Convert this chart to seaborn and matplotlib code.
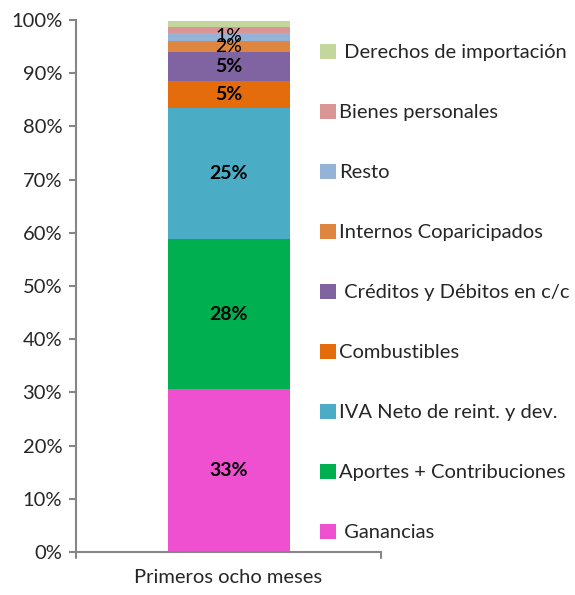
import pandas as pd
import numpy as np
import matplotlib
matplotlib.use("Agg")
import matplotlib.pyplot as plt
import seaborn as sns
from matplotlib.patches import Patch

# -------------------
# Data (bottom to top of the stacked bar)
categories = ["Ganancias", "Aportes + Contribuciones", "IVA Neto de reint. y dev.",
              "Combustibles", "Créditos y Débitos en c/c", "Internos Coparicipados",
              "Resto", "Bienes personales", "Derechos de importación"]
shares = [30.6, 28.2, 24.6, 5.1, 5.5, 2.1, 1.5, 1.1, 1.1]
labels = ["33%", "28%", "25%", "5%", "5%", "2%", "1%", "", ""]
label_bold = [True, True, True, True, True, False, False, False, False]
colors = ["#EE50D0", "#00B050", "#4BACC6", "#E46C0A", "#8064A2",
          "#DE8540", "#95B3D7", "#D99694", "#C3D69B"]
# leading spaces as in the original legend
legend_names = [" Ganancias", "Aportes + Contribuciones", "IVA Neto de reint. y dev.",
                "Combustibles", " Créditos y Débitos en c/c", "Internos Coparicipados",
                "Resto", "Bienes personales", " Derechos de importación"]
period = "Primeros ocho meses"

sns.set_style("white")
plt.rcParams["font.family"] = ["Lato", "DejaVu Sans"]

df = pd.DataFrame({"period": period, "tributo": categories, "share": shares})
df["bottom"] = df["share"].cumsum() - df["share"]

fig = plt.figure(figsize=(5.75, 5.95), dpi=100)
ax = fig.add_axes([0.1322, 0.0723, 0.5304, 0.8941])

for i, row in df.iterrows():
    sns.barplot(x=[row["period"]], y=[row["share"]], bottom=row["bottom"],
                color=colors[i], width=0.4, ax=ax, saturation=1, linewidth=0)
    if labels[i]:
        ax.text(0, row["bottom"] + row["share"] / 2, labels[i], ha="center", va="center",
                fontsize=14, fontweight="bold" if label_bold[i] else "normal", color="black")

ax.set_ylim(0, 100)
ax.set_xlim(-0.5, 0.5)
ax.set_yticks(np.arange(0, 101, 10))
ax.set_yticklabels([f"{v}%" for v in range(0, 101, 10)], fontsize=14.5)
ax.set_xticks([0])
ax.set_xticklabels([period], fontsize=14.5)
ax.set_xlabel("")
ax.set_ylabel("")

for s in ["top", "right"]:
    ax.spines[s].set_visible(False)
for s in ["left", "bottom"]:
    ax.spines[s].set_color("#868686")
    ax.spines[s].set_linewidth(1.5)
ax.tick_params(axis="y", length=5, color="#868686", width=1.5, left=True, pad=5)
ax.tick_params(axis="x", length=0, pad=12)
# category boundary ticks on the x axis
for xb in [-0.5, 0.5]:
    ax.plot([xb, xb], [0, -1.2], color="#868686", lw=1.5, clip_on=False)

handles = [Patch(facecolor=c, edgecolor="none") for c in colors]
leg = fig.legend(handles[::-1], legend_names[::-1], loc="upper left",
                 bbox_to_anchor=(0.543, 0.940), frameon=False, fontsize=14.5,
                 handlelength=0.8, handleheight=0.8, handletextpad=0.15,
                 labelspacing=2.10, borderaxespad=0)

fig.savefig("out.png", dpi=100)
